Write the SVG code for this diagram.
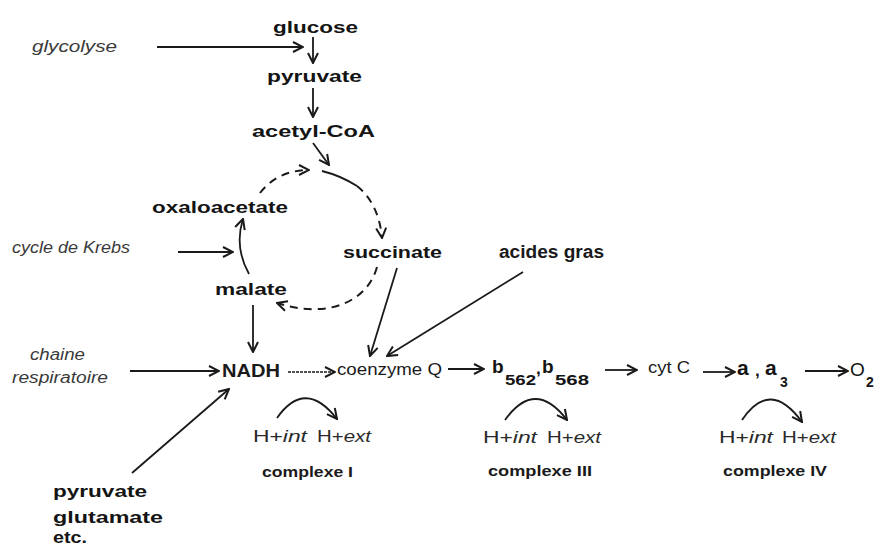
<svg xmlns="http://www.w3.org/2000/svg" width="882" height="550" viewBox="0 0 882 550">
<style>
.geo{font-family:"Liberation Sans",Arial,sans-serif;font-weight:bold;font-size:17px;fill:#141414}
.sub{font-family:"Liberation Sans",Arial,sans-serif;font-weight:bold;font-size:14px;fill:#141414}
.lab{font-family:"Liberation Sans",Arial,sans-serif;font-style:italic;font-size:16px;fill:#3a3a3a}
.cal{font-family:"Liberation Sans",Arial,sans-serif;font-size:16px;fill:#1a1a1a}
.calb{font-family:"Liberation Sans",Arial,sans-serif;font-weight:bold;font-size:15px;fill:#1a1a1a}
.hp{font-family:"Liberation Sans",Arial,sans-serif;font-size:17px;fill:#2a2a2a}
.ln{fill:none;stroke:#1a1a1a;stroke-width:1.8;marker-end:url(#arr)}
.dash{fill:none;stroke:#1a1a1a;stroke-width:2;stroke-dasharray:8,6}
</style>
<defs>
<marker id="arr" viewBox="0 0 12 12" refX="11" refY="6" markerWidth="12" markerHeight="12" markerUnits="userSpaceOnUse" orient="auto">
<path d="M1,1 L11,6 L1,11" fill="none" stroke="#1a1a1a" stroke-width="2"/>
</marker>
</defs>
<rect width="882" height="550" fill="#ffffff"/>

<g id="labels">
<text class="lab" x="32" y="52" textLength="85" lengthAdjust="spacingAndGlyphs">glycolyse</text>
<text class="lab" x="12" y="253" textLength="118" lengthAdjust="spacingAndGlyphs">cycle de Krebs</text>
<text class="lab" x="30" y="360" textLength="55" lengthAdjust="spacingAndGlyphs">chaine</text>
<text class="lab" x="12" y="383" textLength="96" lengthAdjust="spacingAndGlyphs">respiratoire</text>
</g>

<g id="glucose"><text class="geo" x="273" y="33" textLength="85" lengthAdjust="spacingAndGlyphs">glucose</text></g>
<g id="pyruvate"><text class="geo" x="267" y="82" textLength="95" lengthAdjust="spacingAndGlyphs">pyruvate</text></g>
<g id="acetyl-CoA"><text class="geo" x="252" y="137" textLength="123" lengthAdjust="spacingAndGlyphs">acetyl-CoA</text></g>
<g id="oxaloacetate"><text class="geo" x="152" y="213" textLength="136" lengthAdjust="spacingAndGlyphs">oxaloacetate</text></g>
<g id="succinate"><text class="geo" x="343" y="258" textLength="99" lengthAdjust="spacingAndGlyphs">succinate</text></g>
<g id="malate"><text class="geo" x="215" y="295" textLength="72" lengthAdjust="spacingAndGlyphs">malate</text></g>
<g id="acides-gras"><text class="calb" style="font-size:18px" x="499" y="258" textLength="105" lengthAdjust="spacingAndGlyphs">acides gras</text></g>
<g id="NADH"><text class="calb" style="font-size:19px" x="222" y="377" textLength="58" lengthAdjust="spacingAndGlyphs">NADH</text></g>
<g id="coenzymeQ"><text class="cal" x="337" y="375" textLength="105" lengthAdjust="spacingAndGlyphs">coenzyme Q</text></g>
<g id="b562-b568">
<text class="geo" style="font-size:19px" x="492" y="373">b</text>
<text class="sub" x="505" y="385" textLength="31" lengthAdjust="spacingAndGlyphs">562</text>
<text class="geo" x="536" y="374">,</text>
<text class="geo" style="font-size:19px" x="542" y="373">b</text>
<text class="sub" x="555" y="385" textLength="34" lengthAdjust="spacingAndGlyphs">568</text>
</g>
<g id="cytC"><text class="cal" x="648" y="373" textLength="42" lengthAdjust="spacingAndGlyphs">cyt C</text></g>
<g id="a-a3">
<text class="geo" style="font-size:21px" x="737" y="375">a</text>
<text class="geo" x="755" y="376">,</text>
<text class="geo" style="font-size:21px" x="765" y="375">a</text>
<text class="sub" x="780" y="387">3</text>
</g>
<g id="O2">
<text class="geo" style="font-weight:normal;font-size:19px" x="850" y="376">O</text>
<text class="sub" x="866" y="387">2</text>
</g>
<g id="sources">
<text class="geo" x="53" y="497" textLength="94" lengthAdjust="spacingAndGlyphs">pyruvate</text>
<text class="geo" x="53" y="523" textLength="110" lengthAdjust="spacingAndGlyphs">glutamate</text>
<text class="geo" x="53" y="543" textLength="34" lengthAdjust="spacingAndGlyphs">etc.</text>
</g>

<g id="complexe-I">
<text class="hp" x="253" y="442" textLength="54" lengthAdjust="spacingAndGlyphs">H+<tspan font-style="italic">int</tspan></text>
<text class="hp" x="317" y="442" textLength="54" lengthAdjust="spacingAndGlyphs">H+<tspan font-style="italic">ext</tspan></text>
<text class="calb" x="262" y="477" textLength="91" lengthAdjust="spacingAndGlyphs">complexe I</text>
</g>
<g id="complexe-III">
<text class="hp" x="483" y="443" textLength="54" lengthAdjust="spacingAndGlyphs">H+<tspan font-style="italic">int</tspan></text>
<text class="hp" x="547" y="443" textLength="54" lengthAdjust="spacingAndGlyphs">H+<tspan font-style="italic">ext</tspan></text>
<text class="calb" x="488" y="476" textLength="104" lengthAdjust="spacingAndGlyphs">complexe III</text>
</g>
<g id="complexe-IV">
<text class="hp" x="719" y="443" textLength="54" lengthAdjust="spacingAndGlyphs">H+<tspan font-style="italic">int</tspan></text>
<text class="hp" x="782" y="443" textLength="54" lengthAdjust="spacingAndGlyphs">H+<tspan font-style="italic">ext</tspan></text>
<text class="calb" x="723" y="476" textLength="104" lengthAdjust="spacingAndGlyphs">complexe IV</text>
</g>

<g id="connectors">
<path class="ln" d="M157,47 L303,47"/>
<path class="ln" d="M313,37 L313,63"/>
<path class="ln" d="M313,88 L313,117"/>
<path class="ln" d="M313,143 L329,165"/>
<path class="dash" d="M260,193 C272,177 290,170 309,170" marker-end="url(#arr)"/>
<path fill="none" stroke="#1a1a1a" stroke-width="2" d="M322,171 C334,174 346,179 357,186"/>
<path class="dash" d="M357,186 C371,197 380,215 382,238" marker-end="url(#arr)"/>
<path class="dash" d="M377,267 C368,300 330,320 277,303" marker-end="url(#arr)"/>
<path class="ln" d="M249,274 Q234,247 243,219"/>
<path class="ln" d="M178,252 L233,252"/>
<path class="ln" d="M253,305 L253,352"/>
<path class="ln" d="M130,371 L219,371"/>
<path class="ln" d="M132,473 L229,389"/>
<path class="ln" style="stroke-width:1.3;stroke-dasharray:3,1" d="M288,372 L335,372"/>
<path class="ln" d="M397,268 L370,356"/>
<path class="ln" d="M523,272 L387,356"/>
<path class="ln" d="M448,369 L484,369"/>
<path class="ln" d="M605,370 L637,370"/>
<path class="ln" d="M703,372 L735,372"/>
<path class="ln" d="M805,371 L848,371"/>
<path class="ln" d="M277,418 Q305,378 337,419"/>
<path class="ln" d="M505,420 Q535,378 567,420"/>
<path class="ln" d="M742,420 Q770,378 802,422"/>
</g>
</svg>
